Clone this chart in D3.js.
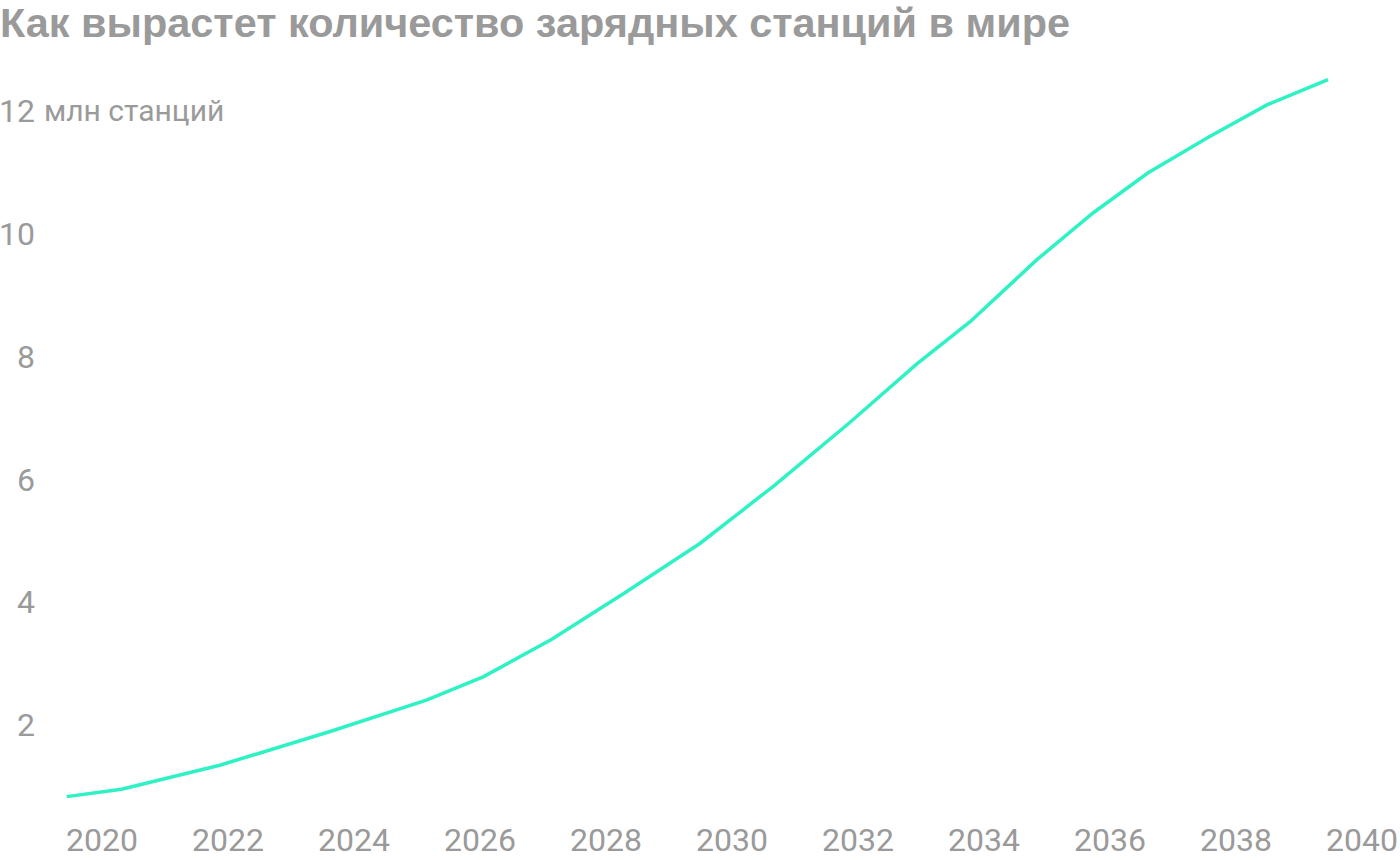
<!DOCTYPE html>
<html>
<head>
<meta charset="utf-8">
<script src="https://cdn.jsdelivr.net/npm/d3@7"></script>
<style>
  body { margin: 0; background: #fff; }
  svg text { font-family: Roboto, "Noto Sans", sans-serif; }
</style>
</head>
<body>
<div id="chart"></div>
<script>
// values (mln stations)
const years = [2019.44, 2020.31, 2021.87, 2023.62, 2025.15, 2026.05, 2027.14, 2028.30, 2029.49,
  2030.68, 2031.87, 2032.93, 2033.78, 2034.84, 2035.73, 2036.60, 2037.54, 2038.49, 2039.46];
const stations = [0.83, 0.95, 1.34, 1.89, 2.40, 2.78, 3.39, 4.15, 4.95,
  5.90, 6.92, 7.87, 8.56, 9.57, 10.33, 10.98, 11.55, 12.09, 12.50];
const xTicks = [2020, 2022, 2024, 2026, 2028, 2030, 2032, 2034, 2036, 2038, 2040];
const yTicks = [2, 4, 6, 8, 10, 12];
const title = "Как вырастет количество зарядных станций в мире";
const unit = "млн станций";

const data = years.map((y, i) => ({ year: y, value: stations[i] }));

const W = 1400, H = 860;
const grey = "#9a9a9a";

const x = d3.scaleLinear().domain([2020, 2040]).range([102, 1362]);
const y = d3.scaleLinear().domain([0, 12]).range([847.6, 110.4]);

const svg = d3.select("#chart").append("svg")
  .attr("width", W)
  .attr("height", H);

// title, wider grotesque face, fitted to the reference width
svg.append("text")
  .attr("x", 0)
  .attr("y", 37)
  .attr("fill", grey)
  .style("font-family", "'Liberation Sans', Arial, sans-serif")
  .style("font-size", "40px")
  .style("font-weight", 700)
  .attr("textLength", 1070)
  .attr("lengthAdjust", "spacingAndGlyphs")
  .text(title);

// y labels, right aligned, no grid
svg.selectAll(".ylab")
  .data(yTicks)
  .join("text")
  .attr("class", "ylab")
  .attr("x", 35)
  .attr("y", d => y(d))
  .attr("dy", "0.36em")
  .attr("text-anchor", "end")
  .attr("fill", grey)
  .attr("font-size", 32)
  .text(d => d);

svg.append("text")
  .attr("x", 44)
  .attr("y", y(12))
  .attr("dy", "0.36em")
  .attr("fill", grey)
  .attr("font-size", 30)
  .text(unit);

svg.selectAll(".xlab")
  .data(xTicks)
  .join("text")
  .attr("class", "xlab")
  .attr("x", d => x(d))
  .attr("y", 839)
  .attr("dy", "0.36em")
  .attr("text-anchor", "middle")
  .attr("fill", grey)
  .attr("font-size", 32)
  .text(d => d);

const line = d3.line()
  .x(d => x(d.year))
  .y(d => y(d.value));

svg.append("path")
  .datum(data)
  .attr("fill", "none")
  .attr("stroke", "#2ef2c4")
  .attr("stroke-width", 3.5)
  .attr("d", line);
</script>
</body>
</html>
